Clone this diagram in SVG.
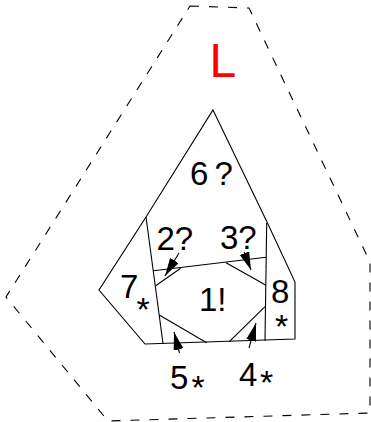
<svg xmlns="http://www.w3.org/2000/svg" width="371" height="422" viewBox="0 0 371 422">
<style>
.ln{fill:none;stroke:#000;stroke-width:1.1}
.dash{fill:none;stroke:#000;stroke-width:1.1;stroke-dasharray:9 10}
.t{font-family:"Liberation Sans",Arial,sans-serif;font-size:33px;fill:#000}
.s{font-family:"Liberation Sans",Arial,sans-serif;font-size:34px;fill:#000}
.arr{fill:none;stroke:#000;stroke-width:1.1;marker-end:url(#ah)}
</style>
<defs>
<marker id="ah" markerUnits="userSpaceOnUse" markerWidth="20" markerHeight="12" refX="18" refY="5" orient="auto">
<path d="M0,0 L18,5 L0,10 z" fill="#000"/>
</marker>
</defs>
<rect width="371" height="422" fill="#fff"/>
<g id="L">
<polygon class="dash" points="190,6 249,8 370,262 370,413 108,421 6,297"/>
<text x="209.5" y="77" style="font-family:'Liberation Sans',Arial,sans-serif;font-size:48px;fill:#ff0000">L</text>
</g>
<g id="n6">
<polygon class="ln" points="213,110 267,222 295,282 295,339 145,344 99,290 146,217"/>
<text class="t" x="190" y="185" letter-spacing="-1.5">6 ?</text>
</g>
<g id="n7">
<line class="ln" x1="146" y1="217" x2="163" y2="343.5"/>
<text class="t" x="120" y="298">7</text>
<text class="s" x="136.5" y="321">*</text>
</g>
<g id="n8">
<line class="ln" x1="266.7" y1="223" x2="265" y2="340.7"/>
<text class="t" x="271" y="303">8</text>
<text class="s" x="275" y="338">*</text>
</g>
<g id="n2">
<line class="ln" x1="153.5" y1="270.7" x2="266" y2="257.3"/>
<text class="t" x="156.5" y="250">2?</text>
</g>
<g id="n3">
<text class="t" x="220" y="249">3?</text>
</g>
<g id="n1">
<line class="ln" x1="155.7" y1="285.7" x2="180.7" y2="268.3"/>
<line class="ln" x1="226" y1="262.7" x2="266" y2="285.3"/>
<line class="ln" x1="265" y1="306.7" x2="229.3" y2="341.7"/>
<line class="ln" x1="206.7" y1="342.7" x2="159.3" y2="315"/>
<text class="t" x="199" y="311">1!</text>
</g>
<g id="n5">
<text class="t" x="170" y="389">5</text>
<text class="s" x="191.5" y="399">*</text>
</g>
<g id="n4">
<text class="t" x="239" y="386">4</text>
<text class="s" x="260" y="394">*</text>
</g>
<g id="connectors">
<line class="arr" x1="179" y1="253" x2="165" y2="276"/>
<line class="arr" x1="244" y1="252" x2="251" y2="270"/>
<line class="arr" x1="179.5" y1="353" x2="174" y2="332"/>
<line class="arr" x1="249" y1="348" x2="256" y2="323"/>
</g>
</svg>
